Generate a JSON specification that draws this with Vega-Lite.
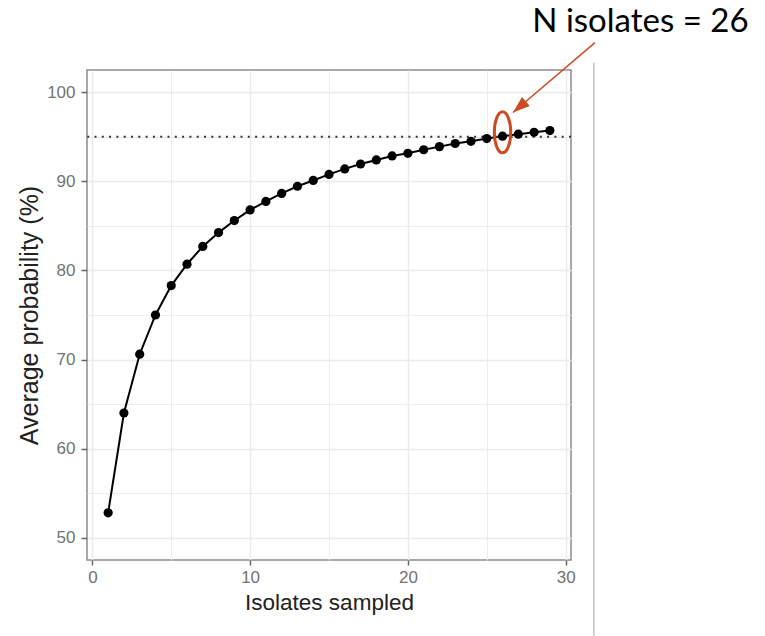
{
  "$schema": "https://vega.github.io/schema/vega-lite/v6.json",
  "width": 484,
  "height": 490,
  "autosize": {"type": "none"},
  "padding": {"left": 87, "top": 70, "right": 194, "bottom": 76},
  "background": "white",
  "config": {
    "font": "Liberation Sans",
    "view": {"stroke": "#8c8c8c", "strokeWidth": 1.5}
  },
  "datasets": {
    "curve": [
      {"isolates": 1, "prob": 52.8},
      {"isolates": 2, "prob": 64.0},
      {"isolates": 3, "prob": 70.6},
      {"isolates": 4, "prob": 75.0},
      {"isolates": 5, "prob": 78.3},
      {"isolates": 6, "prob": 80.7},
      {"isolates": 7, "prob": 82.7},
      {"isolates": 8, "prob": 84.25},
      {"isolates": 9, "prob": 85.6},
      {"isolates": 10, "prob": 86.8},
      {"isolates": 11, "prob": 87.75},
      {"isolates": 12, "prob": 88.65},
      {"isolates": 13, "prob": 89.45},
      {"isolates": 14, "prob": 90.1},
      {"isolates": 15, "prob": 90.78},
      {"isolates": 16, "prob": 91.4},
      {"isolates": 17, "prob": 91.95},
      {"isolates": 18, "prob": 92.4},
      {"isolates": 19, "prob": 92.85},
      {"isolates": 20, "prob": 93.15},
      {"isolates": 21, "prob": 93.55},
      {"isolates": 22, "prob": 93.9},
      {"isolates": 23, "prob": 94.25},
      {"isolates": 24, "prob": 94.5},
      {"isolates": 25, "prob": 94.8},
      {"isolates": 26, "prob": 95.07},
      {"isolates": 27, "prob": 95.3},
      {"isolates": 28, "prob": 95.5},
      {"isolates": 29, "prob": 95.7}
    ],
    "threshold": [{"level": 95}],
    "label": [{"lx": 34.74, "ly": 106.8, "text": "N isolates = 26"}],
    "arrow": [{"ax": 31.86, "ay": 105.57, "ax2": 26.66, "ay2": 97.73}],
    "oval": [{"ox": 26, "oy": 95.5}],
    "divider": [{"dx": 31.79, "dy": 103.33, "dy2": 39.0}]
  },
  "layer": [
    {
      "data": {"name": "curve"},
      "mark": {"type": "line", "color": "black", "strokeWidth": 2},
      "encoding": {
        "x": {
          "field": "isolates", "type": "quantitative",
          "scale": {"domain": [-0.34, 30.34], "zero": false, "nice": false},
          "axis": {
            "values": [0, 5, 10, 15, 20, 25, 30],
            "labelExpr": "datum.value % 10 === 0 ? datum.label : ''",
            "grid": true,
            "gridColor": "#ebebeb",
            "gridWidth": {"condition": {"test": "datum.value % 10 === 0", "value": 1.4}, "value": 0.9},
            "domain": false,
            "tickColor": "#666666",
            "tickSize": 5,
            "tickWidth": 1.5,
            "tickOpacity": {"condition": {"test": "datum.value % 10 === 0", "value": 1}, "value": 0},
            "labelColor": "#737373",
            "labelFontSize": 17,
            "labelPadding": 4,
            "title": "Isolates sampled",
            "titleFontSize": 22.5,
            "titleFontWeight": "normal",
            "titleColor": "#222222",
            "titlePadding": 6
          }
        },
        "y": {
          "field": "prob", "type": "quantitative",
          "scale": {"domain": [47.5, 102.5], "zero": false, "nice": false},
          "axis": {
            "values": [50, 55, 60, 65, 70, 75, 80, 85, 90, 95, 100],
            "labelExpr": "datum.value % 10 === 0 ? datum.label : ''",
            "grid": true,
            "gridColor": "#ebebeb",
            "gridWidth": {"condition": {"test": "datum.value % 10 === 0", "value": 1.4}, "value": 0.9},
            "domain": false,
            "tickColor": "#666666",
            "tickSize": 6,
            "tickWidth": 1.5,
            "tickOpacity": {"condition": {"test": "datum.value % 10 === 0", "value": 1}, "value": 0},
            "labelColor": "#737373",
            "labelFontSize": 17,
            "labelPadding": 6,
            "title": "Average probability (%)",
            "titleFontSize": 25,
            "titleFontWeight": "normal",
            "titleColor": "#222222",
            "titlePadding": 4
          }
        }
      }
    },
    {
      "data": {"name": "threshold"},
      "mark": {"type": "rule", "strokeDash": [2, 5.3], "strokeWidth": 2, "color": "#333333"},
      "encoding": {
        "y": {"field": "level", "type": "quantitative"}
      }
    },
    {
      "data": {"name": "curve"},
      "mark": {"type": "point", "filled": true, "color": "black", "size": 85, "opacity": 1},
      "encoding": {
        "x": {"field": "isolates", "type": "quantitative"},
        "y": {"field": "prob", "type": "quantitative"}
      }
    },
    {
      "data": {"name": "divider"},
      "mark": {"type": "rule", "color": "#a0a0a0", "strokeWidth": 1},
      "encoding": {
        "x": {"field": "dx", "type": "quantitative"},
        "y": {"field": "dy", "type": "quantitative"},
        "y2": {"field": "dy2"}
      }
    },
    {
      "data": {"name": "arrow"},
      "mark": {"type": "rule", "color": "#CC4B22", "strokeWidth": 1.5},
      "encoding": {
        "x": {"field": "ax", "type": "quantitative"},
        "y": {"field": "ay", "type": "quantitative"},
        "x2": {"field": "ax2"},
        "y2": {"field": "ay2"}
      }
    },
    {
      "data": {"name": "arrow"},
      "mark": {"type": "point", "shape": "M0,0L0.7,2L-0.7,2Z", "filled": true, "color": "#CC4B22", "opacity": 1, "size": 290, "angle": 229.5},
      "encoding": {
        "x": {"field": "ax2", "type": "quantitative"},
        "y": {"field": "ay2", "type": "quantitative"}
      }
    },
    {
      "data": {"name": "oval"},
      "mark": {"type": "point", "shape": "M-0.4,0A0.4,1 0 1,1 0.4,0A0.4,1 0 1,1 -0.4,0Z", "filled": false, "color": "#CC4B22", "opacity": 1, "strokeWidth": 3, "size": 1681},
      "encoding": {
        "x": {"field": "ox", "type": "quantitative"},
        "y": {"field": "oy", "type": "quantitative"}
      }
    },
    {
      "data": {"name": "label"},
      "mark": {"type": "text", "font": "Lato", "fontSize": 33, "color": "black", "align": "center", "baseline": "alphabetic"},
      "encoding": {
        "x": {"field": "lx", "type": "quantitative"},
        "y": {"field": "ly", "type": "quantitative"},
        "text": {"field": "text"}
      }
    }
  ]
}
